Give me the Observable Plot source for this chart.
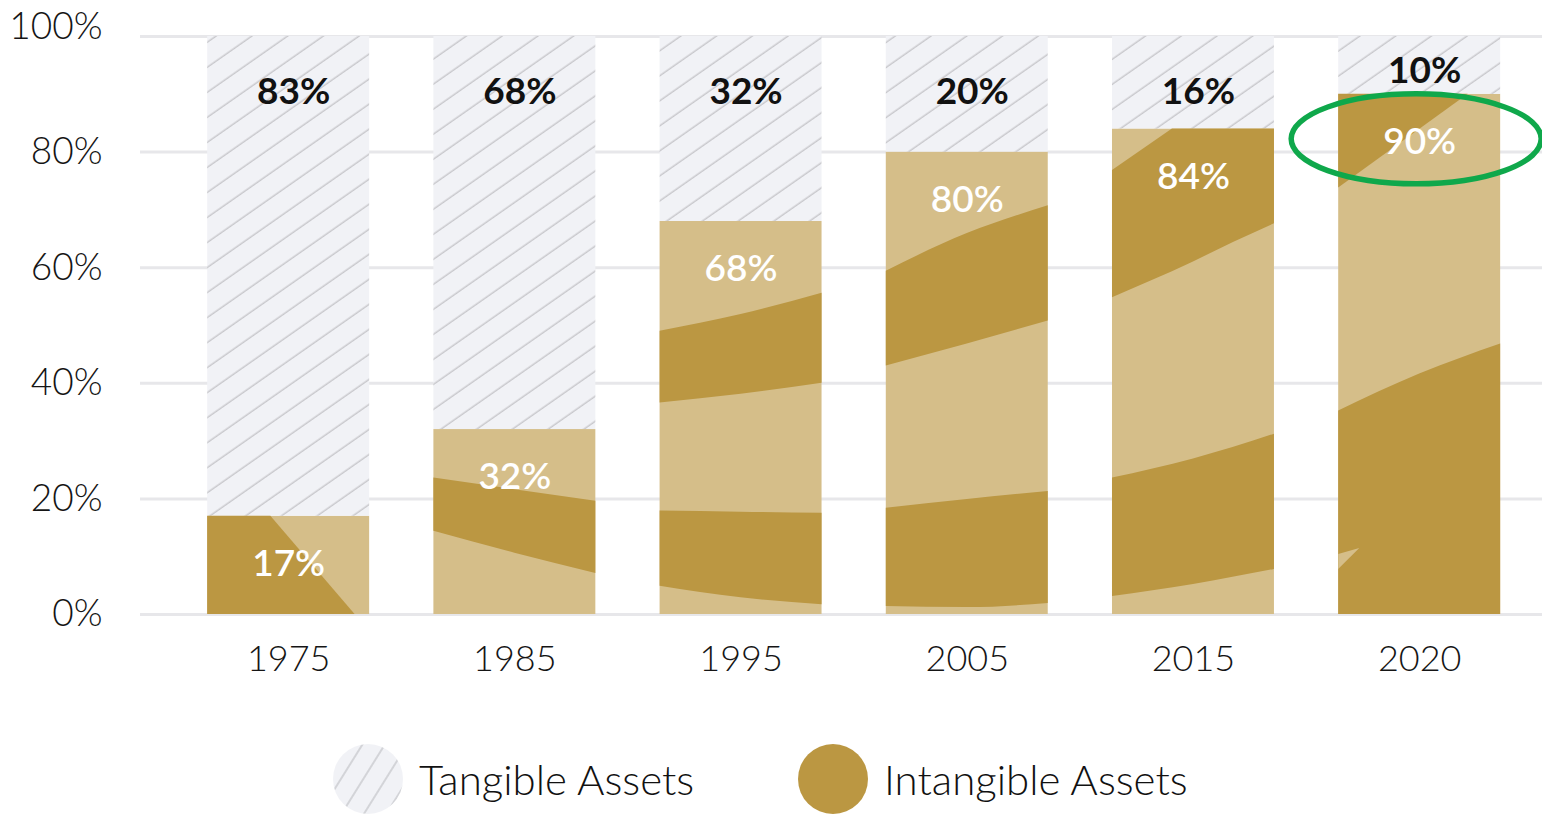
<!DOCTYPE html>
<html>
<head>
<meta charset="utf-8">
<script src="https://cdn.jsdelivr.net/npm/d3@7"></script>
<script src="https://cdn.jsdelivr.net/npm/@observablehq/plot@0.6"></script>
<style>
  html, body { margin: 0; padding: 0; background: #fff; }
  body { width: 1542px; height: 814px; overflow: hidden; font-family: Lato, "Noto Sans", sans-serif; }
  #legend { position: relative; width: 1542px; height: 104px; }
  .item { position: absolute; top: 34px; height: 70px; display: flex; align-items: center; }
  .item span { margin-left: 14px; font-size: 42px; font-weight: 300; color: #111; white-space: nowrap; }
</style>
</head>
<body>
<svg width="0" height="0" style="position:absolute">
  <defs>
    <pattern id="hatch" patternUnits="userSpaceOnUse" width="20" height="20.5" patternTransform="rotate(-35)">
      <rect width="20" height="20.5" fill="#f1f2f6"/>
      <line x1="0" y1="10" x2="20" y2="10" stroke="#c7c7cb" stroke-width="1.4"/>
    </pattern>
    <pattern id="hatch2" patternUnits="userSpaceOnUse" width="20" height="19" patternTransform="rotate(-58)">
      <rect width="20" height="19" fill="#f1f2f6"/>
      <line x1="0" y1="9" x2="20" y2="9" stroke="#c7c7cb" stroke-width="1.4"/>
    </pattern>
  </defs>
</svg>
<div id="chart"></div>
<div id="legend"></div>
<script>
// ---- data ----
const years = ["1975", "1985", "1995", "2005", "2015", "2020"];
const intangible = [17, 32, 68, 80, 84, 90];
const tangible = [83, 68, 32, 20, 16, 10];
const seriesNames = ["Tangible Assets", "Intangible Assets"];
const yTicks = [0, 20, 40, 60, 80, 100];

// ---- decorative band texture inside the intangible bars (fraction across bar, low %, high %) ----
const bandTextureCurved = [
  {bar: 1, pts: [[0, 14.4, 23.6], [0.5, 10.6, 21.6], [1, 7.1, 19.6]]},
  {bar: 2, pts: [[0, 36.6, 49.0], [0.5, 38.1, 51.9], [1, 40.0, 55.6]]},
  {bar: 2, pts: [[0, 4.9, 17.9], [0.5, 2.9, 17.7], [1, 1.7, 17.5]]},
  {bar: 3, pts: [[0, 43.0, 59.4], [0.5, 46.8, 65.9], [1, 50.8, 70.7]]},
  {bar: 3, pts: [[0, 1.4, 18.4], [0.5, 1.2, 19.9], [1, 1.9, 21.3]]},
  {bar: 4, pts: [[0, 3.1, 23.6], [0.5, 5.2, 26.9], [1, 7.8, 31.2]]},
  {bar: 5, pts: [[0, 0, 35.2], [0.5, 0, 41.6], [1, 0, 46.8]]}
];
const bandTextureStraight = [
  {bar: 0, pts: [[0, 0, 17], [0.39, 0, 17], [0.91, 0, 0]]},
  {bar: 4, pts: [[0, 54.8, 76.8], [0.37, 59.3, 84], [0.5, 61.0, 84], [0.75, 64.4, 84], [1, 67.6, 84]]},
  {bar: 5, pts: [[0, 73.8, 90], [0.8, 90, 90]]}
];
const bandTextureLight = [
  {bar: 5, pts: [[0, 7.8, 10.4], [0.13, 11.4, 11.4]]}
];

const DARK = "#bb9742", LIGHT = "#d5be89";
const HALF = 0.358;

const rows = years.map((year, i) => ({i, year, intangible: intangible[i], tangible: tangible[i]}));
const toArea = (list) => list.flatMap((b, k) => b.pts.map(([f, lo, hi]) => ({id: k, x: b.bar - HALF + f * 2 * HALF, lo, hi})));

const chart = Plot.plot({
  width: 1542,
  height: 710,
  marginLeft: 140,
  marginRight: 0,
  marginTop: 36,
  marginBottom: 96,
  style: {fontFamily: "Lato, 'Noto Sans', sans-serif", background: "#fff"},
  x: {domain: [-0.655, 5.543], axis: null},
  y: {domain: [0, 100], axis: null},
  marks: [
    Plot.ruleY(yTicks, {stroke: "#e7e7ea", strokeWidth: 3}),
    Plot.rect(rows, {x1: d => d.i - HALF, x2: d => d.i + HALF, y1: 0, y2: d => d.intangible, fill: LIGHT}),
    Plot.rect(rows, {x1: d => d.i - HALF, x2: d => d.i + HALF, y1: d => d.intangible, y2: d => d.intangible + d.tangible, fill: "url(#hatch)"}),
    Plot.area(toArea(bandTextureCurved), {x1: "x", y1: "lo", y2: "hi", z: "id", fill: DARK, curve: "monotone-x"}),
    Plot.area(toArea(bandTextureStraight), {x1: "x", y1: "lo", y2: "hi", z: "id", fill: DARK, curve: "linear"}),
    Plot.area(toArea(bandTextureLight), {x1: "x", y1: "lo", y2: "hi", z: "id", fill: LIGHT, curve: "linear"}),
    Plot.axisY({ticks: yTicks.slice(0, 5), tickFormat: d => d + "%", tickSize: 0, tickPadding: 38, fontSize: 37, fontWeight: 300, fill: "#151515", label: null}),
    Plot.axisY({ticks: [100], tickFormat: d => d + "%", tickSize: 0, tickPadding: 38, fontSize: 37, fontWeight: 300, fill: "#151515", label: null, dy: -9}),
    Plot.axisX({ticks: years.map((_, i) => i), tickFormat: i => years[i], tickSize: 0, tickPadding: 31, fontSize: 36, fontWeight: 300, fill: "#151515", label: null}),
    Plot.text(rows, {x: "i", y: d => d.intangible, dy: 48, text: d => d.intangible + "%", fill: "#fff", fontSize: 37, fontWeight: 600}),
    Plot.text(rows, {x: "i", y: d => d.tangible > 12 ? 90.4 : 100 - d.tangible / 2 - 1, dx: 5, text: d => d.tangible + "%", fill: "#111", fontSize: 37, fontWeight: 700})
  ]
});
document.getElementById("chart").appendChild(chart);

// green annotation ellipse around the 2020 intangible label
const last = rows[rows.length - 1];
const sx = chart.scale("x"), sy = chart.scale("y");
d3.select(chart).append("ellipse")
  .attr("cx", sx.apply(last.i) - 3)
  .attr("cy", sy.apply(last.intangible) + 45)
  .attr("rx", 125).attr("ry", 45)
  .attr("fill", "none").attr("stroke", "#0fa84b").attr("stroke-width", 5.5);

// legend
const legend = d3.select("#legend");
const legendItems = [
  {name: seriesNames[0], fill: "url(#hatch2)", left: 331},
  {name: seriesNames[1], fill: DARK, left: 796}
];
legendItems.forEach(it => {
  const div = legend.append("div").attr("class", "item").style("left", it.left + "px");
  div.append("svg").attr("width", 74).attr("height", 74)
    .append("circle").attr("cx", 37).attr("cy", 37).attr("r", 35).attr("fill", it.fill);
  div.append("span").text(it.name);
});
</script>
</body>
</html>
